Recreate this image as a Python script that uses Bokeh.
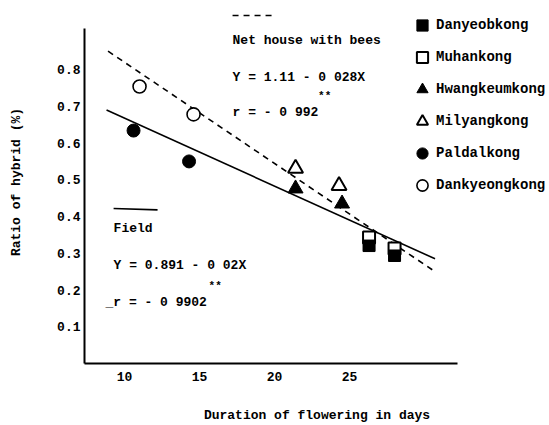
from bokeh.plotting import figure
from bokeh.models import Legend, LegendItem, FixedTicker, Range1d
from bokeh.core.properties import value
from bokeh.embed import file_html
from bokeh.resources import INLINE

# ---- data ----
danyeob_x = [26.3, 28.0]
danyeob_y = [0.321, 0.294]
muhan_x = [26.3, 28.0]
muhan_y = [0.343, 0.313]
hwang_x = [21.4, 24.5]
hwang_y = [0.476, 0.435]
milyang_x = [21.4, 24.3]
milyang_y = [0.531, 0.484]
paldal_x = [10.6, 14.3]
paldal_y = [0.634, 0.550]
dankyeong_x = [11.0, 14.6]
dankyeong_y = [0.754, 0.678]

net_line_x = [8.9, 30.7]
net_line_y = [0.85, 0.25]
field_line_x = [8.8, 30.7]
field_line_y = [0.69, 0.285]

x_ticks = [10, 15, 20, 25]
y_ticks = [0.1, 0.2, 0.3, 0.4, 0.5, 0.6, 0.7, 0.8]
y_tick_labels = {0.1: "0.1", 0.2: "0.2", 0.3: "0.3", 0.4: "0.4",
                 0.5: "0.5", 0.6: "0.6", 0.7: "0.7", 0.8: "0.8"}

FONT = "Liberation Mono"

p = figure(width=549, height=425, output_backend="svg", toolbar_location=None,
           x_range=Range1d(7.33, 38.33), y_range=Range1d(0, 0.988),
           min_border_left=84, min_border_right=0, min_border_top=0,
           min_border_bottom=62)
p.outline_line_color = None
p.grid.visible = False
p.background_fill_color = "white"

for ax in (p.xaxis[0], p.yaxis[0]):
    ax.axis_line_width = 2
    ax.axis_line_color = "black"
    ax.major_tick_line_color = None
    ax.minor_tick_line_color = None
    ax.major_tick_out = 0
    ax.major_tick_in = 0
    ax.minor_tick_out = 0
    ax.minor_tick_in = 0
    ax.major_label_text_font = FONT
    ax.major_label_text_font_size = "13px"
    ax.major_label_text_font_style = "bold"
    ax.major_label_text_color = "black"
    ax.axis_label_text_font = FONT
    ax.axis_label_text_font_size = "13px"
    ax.axis_label_text_font_style = "bold"
    ax.axis_label_text_color = "black"

p.xaxis.bounds = (7.33, 32.2)
p.yaxis.bounds = (0, 0.913)
p.xaxis.ticker = FixedTicker(ticks=x_ticks)
p.yaxis.ticker = FixedTicker(ticks=y_ticks)
p.yaxis.major_label_overrides = y_tick_labels
p.xaxis.major_label_standoff = 8
p.yaxis.major_label_standoff = 4
p.xaxis.axis_label = "Duration of flowering in days"
p.yaxis.axis_label = "Ratio of hybrid (%)"
p.xaxis.axis_label_standoff = 24
p.yaxis.axis_label_standoff = 30

# regression lines
p.line(net_line_x, net_line_y, line_color="black", line_width=1.6, line_dash="6 5")
p.line(field_line_x, field_line_y, line_color="black", line_width=1.6)

# points
r_dan = p.scatter(danyeob_x, danyeob_y, marker="square", size=12,
                  fill_color="black", line_color="black")
r_muh = p.scatter(muhan_x, muhan_y, marker="square", size=12,
                  fill_color="white", line_color="black", line_width=2)
r_hwa = p.scatter(hwang_x, hwang_y, marker="triangle", size=15,
                  fill_color="black", line_color="black")
r_mil = p.scatter(milyang_x, milyang_y, marker="triangle", size=15,
                  fill_color="white", line_color="black", line_width=2)
r_pal = p.scatter(paldal_x, paldal_y, marker="circle", size=13,
                  fill_color="black", line_color="black")
r_dkg = p.scatter(dankyeong_x, dankyeong_y, marker="circle", size=13,
                  fill_color="white", line_color="black", line_width=1.6)

# re-draw filled squares on top of open ones
p.scatter(danyeob_x, danyeob_y, marker="square", size=11,
          fill_color="black", line_color="black")

legend = Legend(items=[
    LegendItem(label="Danyeobkong", renderers=[r_dan]),
    LegendItem(label="Muhankong", renderers=[r_muh]),
    LegendItem(label="Hwangkeumkong", renderers=[r_hwa]),
    LegendItem(label="Milyangkong", renderers=[r_mil]),
    LegendItem(label="Paldalkong", renderers=[r_pal]),
    LegendItem(label="Dankyeongkong", renderers=[r_dkg]),
], location=(324, 164))
legend.border_line_color = None
legend.background_fill_alpha = 0
legend.padding = 0
legend.margin = 0
legend.spacing = 4
legend.glyph_width = 28
legend.glyph_height = 28
legend.label_height = 28
legend.label_standoff = 0
legend.label_text_font = FONT
legend.label_text_font_size = "14px"
legend.label_text_font_style = "bold"
legend.label_text_color = "black"
p.add_layout(legend, "center")

# annotation: net house
ann_font = value(FONT)
p.line([17.2, 20.07], [0.947, 0.947], line_color="black", line_width=1.6, line_dash="6 5")
p.text(x=[17.2, 17.2, 17.2], y=[0.879, 0.778, 0.683],
       text=["Net house with bees", "Y = 1.11 - 0 028X", "r = - 0 992"],
       text_font=ann_font, text_font_size="13px", text_font_style="bold",
       text_baseline="middle", text_align="left", text_color="black")
p.text(x=[22.9], y=[0.729], text=["**"], text_font=ann_font, text_font_size="11px",
       text_font_style="bold", text_baseline="middle", text_color="black")

# annotation: field
p.line([9.27, 12.2], [0.422, 0.418], line_color="black", line_width=1.6)
p.text(x=[9.27, 9.27, 8.73], y=[0.367, 0.267, 0.166],
       text=["Field", "Y = 0.891 - 0 02X", "_r = - 0 9902"],
       text_font=ann_font, text_font_size="13px", text_font_style="bold",
       text_baseline="middle", text_align="left", text_color="black")
p.text(x=[15.6], y=[0.212], text=["**"], text_font=ann_font, text_font_size="11px",
       text_font_style="bold", text_baseline="middle", text_color="black")

open("out.html", "w").write(file_html(p, INLINE))
